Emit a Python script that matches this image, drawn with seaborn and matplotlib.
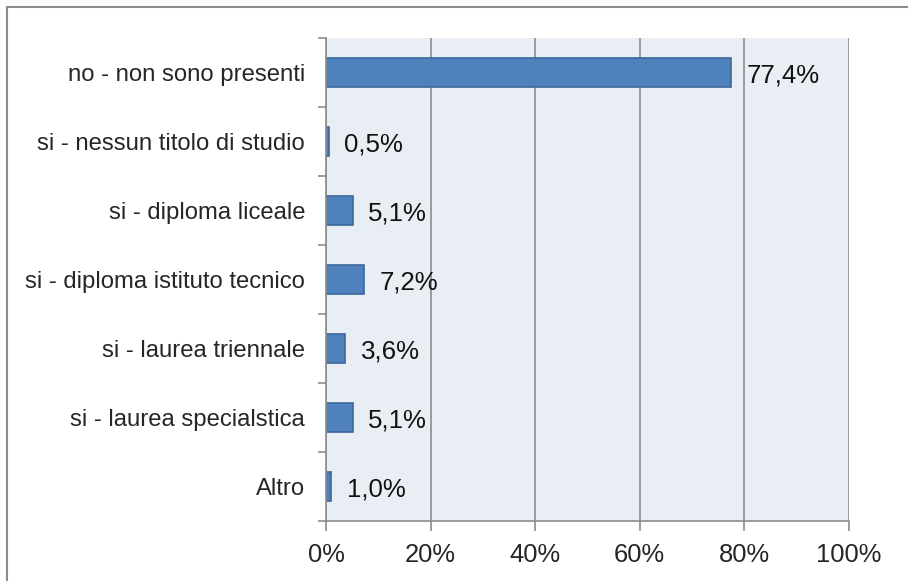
import matplotlib
matplotlib.use("Agg")
import matplotlib.pyplot as plt
import seaborn as sns
import pandas as pd
import numpy as np
from matplotlib.patches import Rectangle
from matplotlib.ticker import FixedLocator

#chart data
categories = ['no - non sono presenti', 'si - nessun titolo di studio', 'si - diploma liceale',
              'si - diploma istituto tecnico', 'si - laurea triennale',
              'si - laurea specialstica', 'Altro']
values = [77.4, 0.5, 5.1, 7.2, 3.6, 5.1, 1.0]
value_labels = ['77,4%', '0,5%', '5,1%', '7,2%', '3,6%', '5,1%', '1,0%']
xticks = [0, 20, 40, 60, 80, 100]

data = pd.DataFrame({'cat': categories, 'val': values})

sns.set_style("white")
plt.rcParams['font.family'] = ['Liberation Sans', 'DejaVu Sans']

fig = plt.figure(figsize=(9.08, 5.81), dpi=100)
ax = fig.add_axes([326/908, 1 - 521/581, (849 - 326)/908, (521 - 38)/581])

#outer chart border
fig.patches.append(Rectangle((7/908, -0.1), 1.2, 1 - 7/581 + 0.1, transform=fig.transFigure,
                             fill=False, edgecolor='#8c8c8c', linewidth=1.5))

ax.set_facecolor('#E9EDF4')
sns.barplot(x='val', y='cat', data=data, orient='h', color='#4F81BD', width=0.42,
            edgecolor='#3B679B', linewidth=1.2, saturation=1, ax=ax)

for i in range(len(values)):
    ax.text(values[i] + 3.0, i, value_labels[i], va='center_baseline', ha='left',
            fontsize=18.6, color='#111111')

ax.set_xlim(0, 100)
ax.set_ylim(len(categories) - 0.5, -0.5)
ax.set_xticks(xticks)
ax.set_xticklabels(['{}%'.format(x) for x in xticks], fontsize=18.4)
ax.set_yticks(range(len(categories)))
ax.set_yticklabels(categories, fontsize=17.2)
ax.yaxis.set_minor_locator(FixedLocator(np.arange(-0.5, len(categories), 1)))
ax.tick_params(axis='y', which='major', length=0, pad=15)
ax.tick_params(axis='y', which='minor', length=6, color='#8c8c8c', width=1.2, left=True)
ax.tick_params(axis='x', length=7, color='#8c8c8c', width=1.2, pad=9, bottom=True)
ax.set_xlabel('')
ax.set_ylabel('')

ax.grid(axis='x', color='#8c8c8c', linewidth=1.2)
ax.set_axisbelow(True)
for s in ['top', 'right']:
    ax.spines[s].set_visible(False)
for s in ['left', 'bottom']:
    ax.spines[s].set_color('#8c8c8c')
    ax.spines[s].set_linewidth(1.2)

plt.savefig('out.png', dpi=100)
